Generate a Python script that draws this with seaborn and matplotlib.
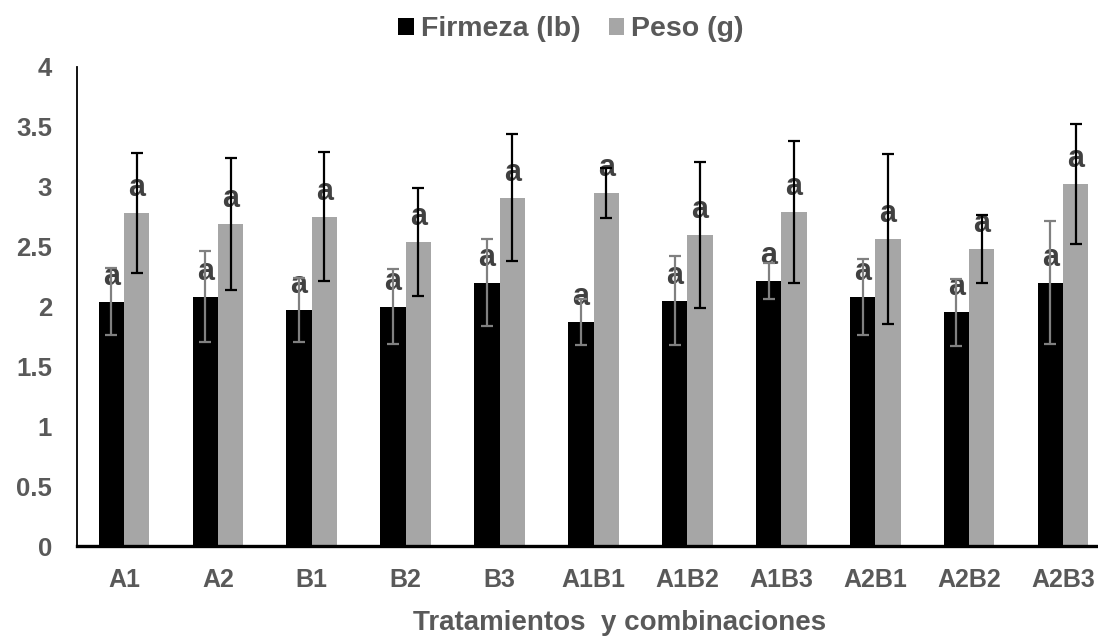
import pandas as pd
import numpy as np
import seaborn as sns
import matplotlib.pyplot as plt

# valores
tratamientos = ['A1', 'A2', 'B1', 'B2', 'B3', 'A1B1', 'A1B2', 'A1B3', 'A2B1', 'A2B2', 'A2B3']
firmeza = [2.04, 2.08, 1.97, 2.00, 2.20, 1.87, 2.05, 2.21, 2.08, 1.95, 2.20]
firmeza_err = [0.28, 0.38, 0.27, 0.31, 0.36, 0.19, 0.37, 0.15, 0.32, 0.28, 0.51]
peso = [2.78, 2.69, 2.75, 2.54, 2.91, 2.95, 2.60, 2.79, 2.56, 2.48, 3.02]
peso_err = [0.50, 0.55, 0.54, 0.45, 0.53, 0.21, 0.61, 0.59, 0.71, 0.28, 0.50]
letras_firmeza = ['a'] * 11
letras_peso = ['a'] * 11
series = ['Firmeza (lb)', 'Peso (g)']
y_ticks = [0, 0.5, 1, 1.5, 2, 2.5, 3, 3.5, 4]

df = pd.DataFrame({
    'trat': tratamientos * 2,
    'valor': firmeza + peso,
    'serie': [series[0]] * 11 + [series[1]] * 11,
})

sns.set_style('white')
plt.rcParams['font.family'] = ['Liberation Sans', 'DejaVu Sans']
plt.rcParams['font.weight'] = 'bold'

text_col = '#595959'

fig = plt.figure(figsize=(10.98, 6.38), dpi=100)
ax = fig.add_axes([77 / 1098, 1 - 546 / 638, (1110 - 77) / 1098, (546 - 67) / 638])

sns.barplot(data=df, x='trat', y='valor', hue='serie', palette=['#000000', '#A6A6A6'],
            width=0.54, gap=0, errorbar=None, saturation=1, linewidth=0,
            ax=ax, zorder=2)

errs = [firmeza_err, peso_err]
vals = [firmeza, peso]
letras = [letras_firmeza, letras_peso]
err_cols = ['#808080', '#000000']
bar_conts = list(ax.containers)
for k, cont in enumerate(bar_conts):
    xs = [p.get_x() + p.get_width() / 2 for p in cont.patches]
    ax.errorbar(xs, vals[k], yerr=errs[k], fmt='none', ecolor=err_cols[k],
                elinewidth=1.6, capsize=4.5, capthick=1.6, zorder=4)
    for x, v, t in zip(xs, vals[k], letras[k]):
        ax.annotate(t, (x, v), xytext=(0, 17), textcoords='offset pixels',
                    ha='center', va='baseline', fontsize=22, fontweight='bold',
                    color='#404040', zorder=3)

ax.set_ylim(0, 4)
ax.set_xlim(-0.5, 10.5)
ax.set_yticks(y_ticks)
ax.set_yticklabels([f'{t:g}' for t in y_ticks])
ax.tick_params(axis='y', length=0, pad=18, labelsize=18.5, labelcolor=text_col)
ax.tick_params(axis='x', length=0, pad=16, labelsize=18, labelcolor=text_col)
for lab in ax.get_xticklabels() + ax.get_yticklabels():
    lab.set_fontweight('bold')
ax.set_xlabel('')
ax.set_ylabel('')

for s in ['top', 'right']:
    ax.spines[s].set_visible(False)
ax.spines['left'].set_linewidth(1.3)
ax.spines['left'].set_color('black')
ax.spines['bottom'].set_linewidth(2.4)
ax.spines['bottom'].set_color('black')

handles, labels = ax.get_legend_handles_labels()
ax.legend(handles, labels, loc='center', bbox_to_anchor=(571 / 1098, 1 - 29.5 / 638),
          bbox_transform=fig.transFigure, ncol=2, frameon=False,
          handlelength=0.53, handleheight=0.53, handletextpad=0.25,
          columnspacing=1.0, prop={'size': 20.5, 'weight': 'bold'}, labelcolor=text_col)

fig.text(620 / 1098, 1 - 630 / 638, 'Tratamientos  y combinaciones', ha='center',
         va='baseline', fontsize=20, fontweight='bold', color=text_col)

fig.savefig('out.png', dpi=100)
